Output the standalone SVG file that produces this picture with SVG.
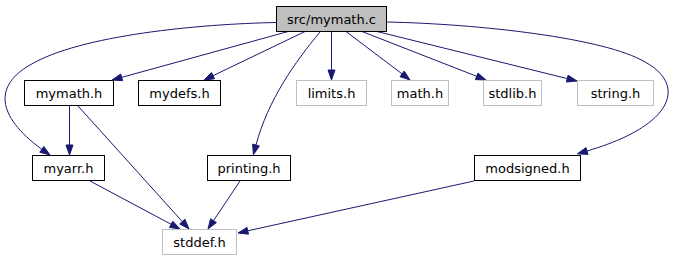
<svg xmlns="http://www.w3.org/2000/svg" width="674" height="261" viewBox="0 0 674 261">
<style>
.n rect{fill:#fff;stroke:#000;stroke-width:1}
.n.ext rect{stroke:#bfbfbf}
.n.main rect{fill:#bfbfbf;stroke:#000}
.n text{font-family:"DejaVu Sans",sans-serif;font-size:13px;fill:#000;text-anchor:middle}
.e path{fill:none;stroke:#191970;stroke-width:1}
.e polygon{fill:#191970;stroke:#191970;stroke-width:1}
</style>
<rect width="674" height="261" fill="#fff"/>
<g id="connectors" class="e">
<path d="M290,31 L121.6,77.4"/><polygon points="122.6,80.7 120.7,74 112,80"/>
<path d="M306,31 L213,75.7"/><polygon points="214.5,78.8 211.5,72.5 204,80"/>
<path d="M331.5,31.5 L331.5,70"/><polygon points="328,70 335,70 331.5,80"/>
<path d="M346,31.5 L402.1,73.9"/><polygon points="400,76.7 404.2,71.1 410,80"/>
<path d="M362,31.5 L476.7,76.3"/><polygon points="475.4,79.6 478,73.1 486,80"/>
<path d="M377,31.5 L567.3,78.6"/><polygon points="566.4,82 568.1,75.2 577,81"/>
<path d="M276,22.5 C200,24 80,35 30,65 C-5,85 -5,115 41.8,149.3"/><polygon points="39.8,152.2 43.8,146.4 50,155"/>
<path d="M320,32 C295,62 268,100 256,145"/><polygon points="259.4,145.9 252.6,144.1 253.4,154.7"/>
<path d="M387,22 C480,24 605,38 645,62 C686,84 676,125 587,151"/><polygon points="588,154.4 586,147.6 577.4,153.8"/>
<path d="M69.5,105.5 L69.5,145"/><polygon points="66,145 73,145 69.5,155"/>
<path d="M78,106 L182.3,221.6"/><polygon points="179.7,223.9 184.9,219.2 189,229"/>
<path d="M90,181 L171.2,224.3"/><polygon points="169.5,227.4 172.8,221.2 180,229"/>
<path d="M240,181 L213.5,220.7"/><polygon points="210.6,218.8 216.4,222.6 208,229"/>
<path d="M474,181 L247.8,230.8"/><polygon points="248.5,234.2 247,227.4 238,233"/>
</g>
<g id="node-src-mymath-c" class="n main"><rect x="276.5" y="6.5" width="110" height="25"/><text x="331.5" y="23.5">src/mymath.c</text></g>
<g id="node-mymath-h" class="n"><rect x="24.5" y="80.5" width="89" height="25"/><text x="69" y="97.5">mymath.h</text></g>
<g id="node-mydefs-h" class="n"><rect x="138.5" y="80.5" width="82" height="25"/><text x="179.5" y="97.5">mydefs.h</text></g>
<g id="node-limits-h" class="n ext"><rect x="296.5" y="80.5" width="70" height="25"/><text x="331.5" y="97.5">limits.h</text></g>
<g id="node-math-h" class="n ext"><rect x="391.5" y="80.5" width="57" height="25"/><text x="420" y="97.5">math.h</text></g>
<g id="node-stdlib-h" class="n ext"><rect x="483.5" y="80.5" width="58" height="25"/><text x="512.5" y="97.5">stdlib.h</text></g>
<g id="node-string-h" class="n ext"><rect x="577.5" y="80.5" width="76" height="25"/><text x="615.5" y="97.5">string.h</text></g>
<g id="node-myarr-h" class="n"><rect x="32.5" y="155.5" width="72" height="25"/><text x="68.5" y="172.5">myarr.h</text></g>
<g id="node-printing-h" class="n"><rect x="207.5" y="155.5" width="83" height="25"/><text x="249" y="172.5">printing.h</text></g>
<g id="node-modsigned-h" class="n"><rect x="474.5" y="155.5" width="106" height="25"/><text x="527.5" y="172.5">modsigned.h</text></g>
<g id="node-stddef-h" class="n ext"><rect x="162.5" y="229.5" width="74" height="25"/><text x="199.5" y="246.5">stddef.h</text></g>
</svg>
